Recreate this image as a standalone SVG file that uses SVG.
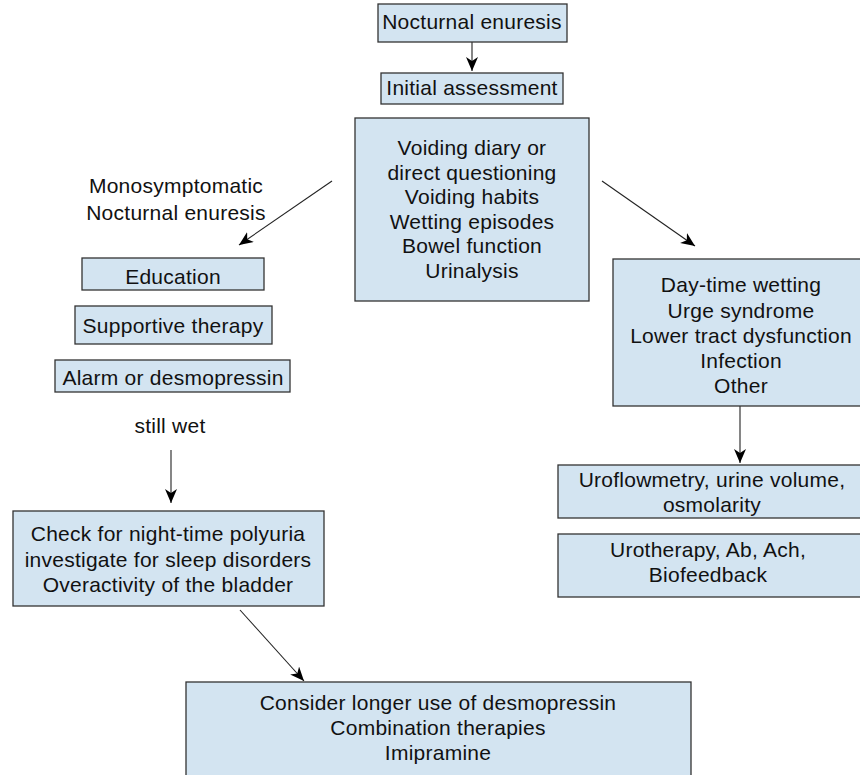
<svg xmlns="http://www.w3.org/2000/svg" width="860" height="775" viewBox="0 0 860 775">
<style>
.box{fill:#d3e4f1;stroke:#333;stroke-width:1.3}
text{font-family:"Liberation Sans",Arial,Helvetica,sans-serif;font-size:21px;letter-spacing:0.25px;fill:#111;text-anchor:middle}
.c{fill:none;stroke:#222;stroke-width:1.1}
</style>
<defs>
<marker id="ah" markerUnits="userSpaceOnUse" markerWidth="16" markerHeight="14" refX="14" refY="6" orient="auto">
<path d="M0,0 L14,6 L0,12 L4,6 z" fill="#000"/>
</marker>
</defs>
<rect width="860" height="775" fill="#fff"/>
<g id="connectors">
<line class="c" x1="472" y1="42" x2="472" y2="71" marker-end="url(#ah)"/>
<line class="c" x1="332" y1="181" x2="239" y2="245" marker-end="url(#ah)"/>
<line class="c" x1="602" y1="181" x2="695" y2="246" marker-end="url(#ah)"/>
<line class="c" x1="171" y1="450" x2="171" y2="503" marker-end="url(#ah)"/>
<line class="c" x1="740" y1="406" x2="740" y2="463" marker-end="url(#ah)"/>
<line class="c" x1="240" y1="610" x2="304" y2="681" marker-end="url(#ah)"/>
</g>
<g id="n1"><rect class="box" x="378" y="4" width="189" height="38"/><text x="472" y="29">Nocturnal enuresis</text></g>
<g id="n2"><rect class="box" x="381" y="73" width="182" height="31"/><text x="472" y="95">Initial assessment</text></g>
<g id="n3"><rect class="box" x="355" y="118" width="234" height="183"/>
<text x="472" y="155">Voiding diary or</text>
<text x="472" y="180">direct questioning</text>
<text x="472" y="204">Voiding habits</text>
<text x="472" y="229">Wetting episodes</text>
<text x="472" y="253">Bowel function</text>
<text x="472" y="278">Urinalysis</text>
</g>
<g id="lbl-mono"><text x="176" y="193">Monosymptomatic</text><text x="176" y="220">Nocturnal enuresis</text></g>
<g id="n4"><rect class="box" x="82" y="258" width="182" height="32"/><text x="173" y="284">Education</text></g>
<g id="n5"><rect class="box" x="75" y="306" width="197" height="38"/><text x="173" y="333">Supportive therapy</text></g>
<g id="n6"><rect class="box" x="55" y="360" width="235" height="32"/><text x="173" y="385">Alarm or desmopressin</text></g>
<g id="lbl-wet"><text x="170" y="433">still wet</text></g>
<g id="n7"><rect class="box" x="13" y="511" width="311" height="95"/>
<text x="168" y="541">Check for night-time polyuria</text>
<text x="168" y="567">investigate for sleep disorders</text>
<text x="168" y="592">Overactivity of the bladder</text>
</g>
<g id="n8"><rect class="box" x="186" y="682" width="505" height="110"/>
<text x="438" y="710">Consider longer use of desmopressin</text>
<text x="438" y="735">Combination therapies</text>
<text x="438" y="760">Imipramine</text>
</g>
<g id="n9"><rect class="box" x="613" y="259" width="260" height="147"/>
<text x="741" y="292">Day-time wetting</text>
<text x="741" y="318">Urge syndrome</text>
<text x="741" y="343">Lower tract dysfunction</text>
<text x="741" y="368">Infection</text>
<text x="741" y="393">Other</text>
</g>
<g id="n10"><rect class="box" x="558" y="465" width="315" height="53"/>
<text x="712" y="487">Uroflowmetry, urine volume,</text>
<text x="712" y="512">osmolarity</text>
</g>
<g id="n11"><rect class="box" x="558" y="534" width="315" height="63"/>
<text x="708" y="557">Urotherapy, Ab, Ach,</text>
<text x="708" y="582">Biofeedback</text>
</g>
</svg>
